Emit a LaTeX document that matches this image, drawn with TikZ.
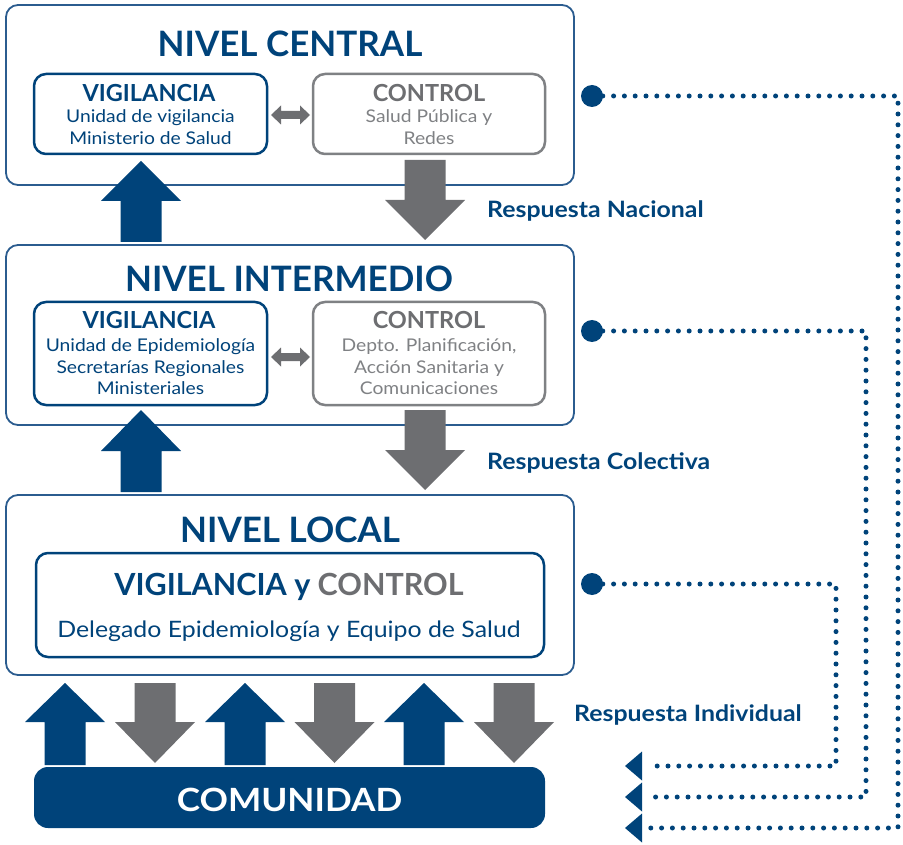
\documentclass[tikz,border=0pt]{standalone}
\usepackage{fontspec}
\setmainfont{Lato}
\newfontfamily\widefont{Lato}[FakeStretch=1.1]
\usetikzlibrary{calc}
\definecolor{nblue}{HTML}{00437A}
\definecolor{bline}{HTML}{2B5C8F}
\definecolor{ngray}{HTML}{6D6E71}
\definecolor{lgray}{HTML}{7F8184}
\begin{document}
\begin{tikzpicture}[x=1pt,y=-1pt,
  outerbox/.style={draw=bline, line width=1.8pt, rounded corners=12pt, inner sep=0pt, fill=white},
  vbox/.style={draw=nblue, line width=2.5pt, rounded corners=12pt, inner sep=0pt},
  cbox/.style={draw=lgray, line width=2.5pt, rounded corners=12pt, inner sep=0pt},
  lvl/.style={inner sep=0pt, anchor=base, font=\fontsize{35}{40}\selectfont\bfseries, text=nblue},
  sub/.style={inner sep=0pt, anchor=base, font=\fontsize{23.5}{28}\selectfont\bfseries},
  txt/.style={inner sep=0pt, anchor=base, font=\widefont\fontsize{17.5}{20}\selectfont},
  resp/.style={inner sep=0pt, anchor=base west, font=\widefont\fontsize{22.6}{26}\selectfont\bfseries, text=nblue},
  dot/.style={circle, fill=nblue, minimum size=22pt, inner sep=0pt},
  dotline/.style={draw=nblue, line width=5pt, line cap=round, dash pattern=on 0pt off 10.8pt},
  upblk/.style={fill=nblue},
  dnblk/.style={fill=ngray}]
\useasboundingbox (0,0) rectangle (903,845);

% level boxes
\node[outerbox, minimum width=568pt, minimum height=180pt] (central) at (290,95) {};
\node[outerbox, minimum width=568pt, minimum height=180pt] (inter) at (290,335) {};
\node[outerbox, minimum width=568pt, minimum height=180pt] (local) at (290,585) {};

% titles
\node[lvl] (tcen) at (290,57) {NIVEL CENTRAL};
\node[lvl] (tint) at (289,292) {NIVEL INTERMEDIO};
\node[lvl] (tloc) at (290,542) {NIVEL LOCAL};

% central inner boxes
\node[vbox, minimum width=233pt, minimum height=80pt] (vc) at (150.5,114) {};
\node[cbox, minimum width=232pt, minimum height=80pt] (cc) at (429,114) {};
\node[sub, text=nblue] (vct) at (149,102) {VIGILANCIA};
\node[txt, text=nblue] (vc1) at (150.5,123) {Unidad de vigilancia};
\node[txt, text=nblue] (vc2) at (150.5,145) {Ministerio de Salud};
\node[sub, text=ngray] (cct) at (429,102) {CONTROL};
\node[txt, text=lgray] (cc1) at (429,123) {Salud Pública y};
\node[txt, text=lgray] (cc2) at (429,145) {Redes};
\fill[ngray] (271,115) -- (281,105.5) -- (281,111) -- (300,111) -- (300,105.5) -- (310,115)
  -- (300,124.5) -- (300,119) -- (281,119) -- (281,124.5) -- cycle;

% intermediate inner boxes
\node[vbox, minimum width=233pt, minimum height=103pt] (vi) at (150.5,353.5) {};
\node[cbox, minimum width=232pt, minimum height=103pt] (ci) at (429,353.5) {};
\node[sub, text=nblue] (vit) at (149,329) {VIGILANCIA};
\node[txt, text=nblue] (vi1) at (150.5,352) {Unidad de Epidemiología};
\node[txt, text=nblue] (vi2) at (150.5,373) {Secretarías Regionales};
\node[txt, text=nblue] (vi3) at (150.5,394) {Ministeriales};
\node[sub, text=ngray] (cit) at (429,329) {CONTROL};
\node[txt, text=lgray] (ci1) at (429,352) {Depto. Planificación,};
\node[txt, text=lgray] (ci2) at (429,373) {Acción Sanitaria y};
\node[txt, text=lgray] (ci3) at (429,394) {Comunicaciones};
\fill[ngray] (271,357) -- (281,347.5) -- (281,353) -- (300,353) -- (300,347.5) -- (310,357)
  -- (300,366.5) -- (300,361) -- (281,361) -- (281,366.5) -- cycle;

% local inner box
\node[vbox, minimum width=508pt, minimum height=104pt] (vl) at (290,605) {};
\node[inner sep=0pt, anchor=base, font=\fontsize{30.5}{36}\selectfont\bfseries] (vlt) at (289,595)
  {\textcolor{nblue}{VIGILANCIA y} \textcolor{ngray}{CONTROL}};
\node[inner sep=0pt, anchor=base, font=\widefont\fontsize{22.6}{25}\selectfont, text=nblue] (vl1) at (289,637)
  {Delegado Epidemiología y Equipo de Salud};

% comunidad
\node[fill=nblue, rounded corners=14pt, minimum width=511pt, minimum height=61pt, inner sep=0pt] (com) at (289.5,797.5) {};
\node[inner sep=0pt, anchor=base, font=\widefont\fontsize{32}{38}\selectfont\bfseries, text=white] (comt) at (289.5,811) {COMUNIDAD};

% block arrows between levels
\fill[upblk] (141,161) -- (181,201) -- (161.5,201) -- (161.5,242) -- (120.5,242) -- (120.5,201) -- (101,201) -- cycle;
\fill[dnblk] (404.5,160) -- (445.5,160) -- (445.5,200) -- (465,200) -- (425,240) -- (385,200) -- (404.5,200) -- cycle;
\fill[upblk] (141,410) -- (181,451) -- (161.5,451) -- (161.5,492) -- (120.5,492) -- (120.5,451) -- (101,451) -- cycle;
\fill[dnblk] (404.5,410) -- (445.5,410) -- (445.5,450) -- (465,450) -- (425,490) -- (385,450) -- (404.5,450) -- cycle;

% block arrows local <-> comunidad
\foreach \c in {65,245,424}{
  \fill[upblk] (\c,683) -- ({\c+40},722) -- ({\c+20.5},722) -- ({\c+20.5},765) -- ({\c-20.5},765) -- ({\c-20.5},722) -- ({\c-40},722) -- cycle;
}
\foreach \c in {155,334.5,514}{
  \fill[dnblk] ({\c-20.5},683) -- ({\c+20.5},683) -- ({\c+20.5},722) -- ({\c+40},722) -- (\c,763) -- ({\c-40},722) -- ({\c-20.5},722) -- cycle;
}

% response labels
\node[resp] (rn) at (487,218) {Respuesta Nacional};
\node[resp] (rc) at (487,469) {Respuesta Colectiva};
\node[resp] (ri) at (574,721) {Respuesta Individual};

% dotted feedback connectors
\node[dot] (d1) at (592,96) {};
\node[dot] (d2) at (592,331) {};
\node[dot] (d3) at (592,584) {};
\coordinate (k1) at (898,96);
\coordinate (k2) at (866,331);
\coordinate (k3) at (836,584);
\coordinate (t1) at (625,828);
\coordinate (t2) at (625,797);
\coordinate (t3) at (625,766);
\draw[dotline] (d1.center) -- (k1) |- ([xshift=24pt]t1);
\draw[dotline] (d2.center) -- (k2) |- ([xshift=24pt]t2);
\draw[dotline] (d3.center) -- (k3) |- ([xshift=24pt]t3);
\foreach \t in {t1,t2,t3}{
  \fill[nblue] (\t) -- ++(17,-14.5) -- ++(0,29) -- cycle;
}
\end{tikzpicture}
\end{document}
